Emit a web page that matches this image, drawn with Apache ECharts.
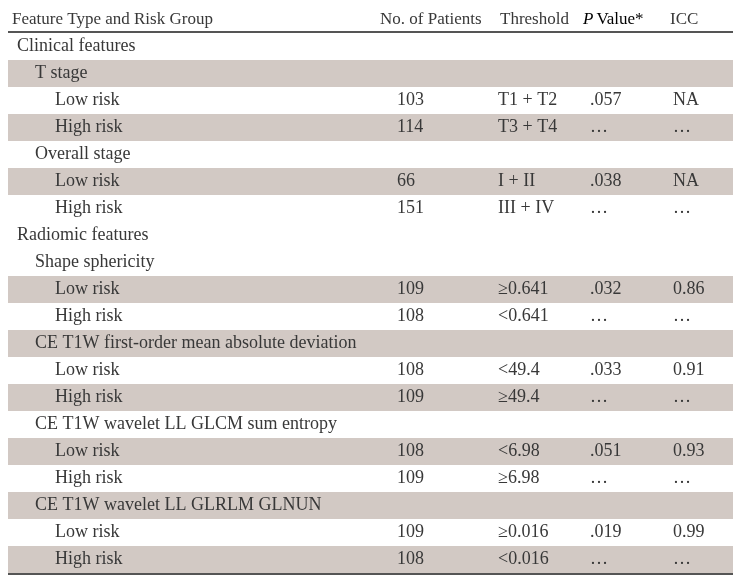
<!DOCTYPE html>
<html>
<head>
<meta charset="utf-8">
<script src="https://cdn.jsdelivr.net/npm/echarts@6/dist/echarts.min.js"></script>
<style>
  html, body { margin: 0; padding: 0; background: #fff; }
  #chart { width: 741px; height: 583px; }
</style>
</head>
<body>
<div id="chart"></div>
<script>
const headers = ['Feature Type and Risk Group', 'No. of Patients', 'Threshold', 'P Value*', 'ICC']

const labels = [
  'Clinical features', 'T stage', 'Low risk', 'High risk',
  'Overall stage', 'Low risk', 'High risk',
  'Radiomic features', 'Shape sphericity', 'Low risk', 'High risk',
  'CE T1W first-order mean absolute deviation', 'Low risk', 'High risk',
  'CE T1W wavelet LL GLCM sum entropy', 'Low risk', 'High risk',
  'CE T1W wavelet LL GLRLM GLNUN', 'Low risk', 'High risk'
]
const levels = [0, 1, 2, 2, 1, 2, 2, 0, 1, 2, 2, 1, 2, 2, 1, 2, 2, 1, 2, 2]
const patients = ['', '', '103', '114', '', '66', '151', '', '', '109', '108', '', '108', '109', '', '108', '109', '', '109', '108']
const thresholds = ['', '', 'T1 + T2', 'T3 + T4', '', 'I + II', 'III + IV', '', '', '≥0.641', '<0.641', '', '<49.4', '≥49.4', '', '<6.98', '≥6.98', '', '≥0.016', '<0.016']
const pValues = ['', '', '.057', '…', '', '.038', '…', '', '', '.032', '…', '', '.033', '…', '', '.051', '…', '', '.019', '…']
const iccValues = ['', '', 'NA', '…', '', 'NA', '…', '', '', '0.86', '…', '', '0.91', '…', '', '0.93', '…', '', '0.99', '…']

// layout / style
const shadedRows = [1, 3, 5, 9, 11, 13, 15, 17, 19]
const indent = [17, 35, 55]
const headerX = [12, 380, 500, 583, 670]
const colX = [397, 498, 590, 673]
const tableLeft = 8
const tableRight = 733
const font = '"Liberation Serif", "DejaVu Serif", serif'
const fontSize = 18
const headerSize = 17
const textColor = '#383838'
const shadeColor = '#d2c9c4'
const ruleColor = '#555'

const chart = echarts.init(document.getElementById('chart'))

const rowKeys = ['header'].concat(labels.map((l, i) => 'r' + i))

const textEl = (x, y, text, size) => ({
  type: 'text',
  x, y,
  style: {
    text,
    font: (size || fontSize) + 'px ' + font,
    fill: textColor,
    textAlign: 'left',
    textVerticalAlign: 'middle'
  }
})

const renderItem = (params, api) => {
  const row = api.value(0)
  const c = api.coord([0, row])
  const h = api.size([0, 1])[1]
  const x0 = api.coord([tableLeft, row])[0]
  const x1 = api.coord([tableRight, row])[0]
  const y = c[1]
  const children = []

  if (row === 0) {
    children.push(textEl(headerX[0], y, headers[0], headerSize))
    children.push(textEl(headerX[1], y, headers[1], headerSize))
    children.push(textEl(headerX[2], y, headers[2], headerSize))
    children.push({
      type: 'text',
      x: headerX[3], y,
      style: {
        text: '{i|P}{n|Value*}',
        rich: {
          i: { fontStyle: 'italic', fontFamily: font, fontSize: headerSize, color: textColor, padding: [0, 3, 0, 0] },
          n: { fontFamily: font, fontSize: headerSize, color: textColor }
        },
        textAlign: 'left',
        textVerticalAlign: 'middle'
      }
    })
    children.push(textEl(headerX[4], y, headers[4], headerSize))
    children.push({
      type: 'line',
      shape: { x1: x0, y1: y + h / 2 - 1, x2: x1, y2: y + h / 2 - 1 },
      style: { stroke: ruleColor, lineWidth: 2 }
    })
    return { type: 'group', children }
  }

  const i = row - 1
  if (shadedRows.indexOf(i) >= 0) {
    children.push({
      type: 'rect',
      shape: { x: x0, y: y - h / 2, width: x1 - x0, height: h },
      style: { fill: shadeColor }
    })
  }
  children.push(textEl(indent[levels[i]], y, labels[i]))
  children.push(textEl(colX[0], y, patients[i]))
  children.push(textEl(colX[1], y, thresholds[i]))
  children.push(textEl(colX[2], y, pValues[i]))
  children.push(textEl(colX[3], y, iccValues[i]))
  if (i === labels.length - 1) {
    children.push({
      type: 'line',
      shape: { x1: x0, y1: y + h / 2 + 1, x2: x1, y2: y + h / 2 + 1 },
      style: { stroke: ruleColor, lineWidth: 2 }
    })
  }
  return { type: 'group', children }
}

const option = {
  animation: false,
  grid: { left: 0, right: 0, top: 6, bottom: 10 },
  xAxis: { type: 'value', min: 0, max: 741, show: false },
  yAxis: { type: 'category', data: rowKeys, inverse: true, show: false },
  series: [{
    type: 'custom',
    renderItem,
    data: rowKeys.map((k, i) => [i]),
    encode: { y: 0 },
    clip: false
  }]
}

chart.setOption(option)
</script>
</body>
</html>
